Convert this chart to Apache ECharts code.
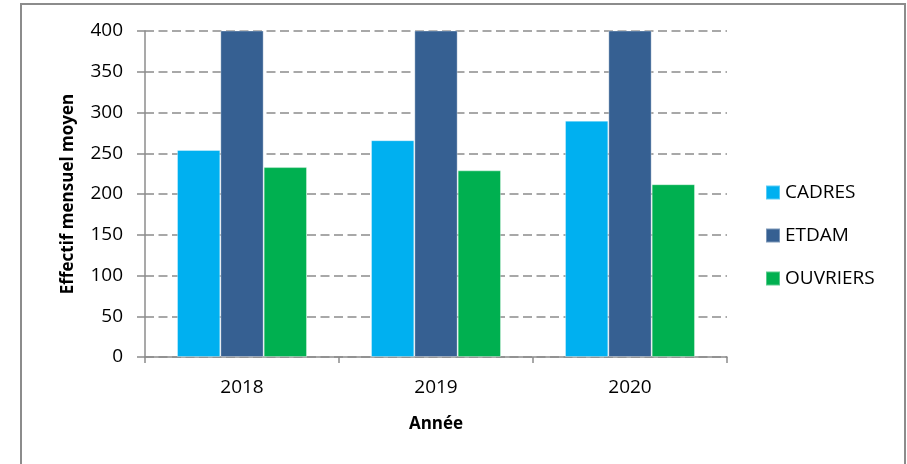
<!DOCTYPE html>
<html>
<head>
<meta charset="utf-8">
<title>Effectif mensuel moyen</title>
<script src="https://cdn.jsdelivr.net/npm/echarts@6/dist/echarts.min.js"></script>
<style>
  html, body { margin: 0; padding: 0; background: #fff; }
  #chart { width: 907px; height: 464px; }
</style>
</head>
<body>
<div id="chart"></div>
<script>
// data (ETDAM bars are cut at the 400 axis max)
const years = ['2018', '2019', '2020']
const cadres = [254, 266, 290]
const etdam = [440, 440, 440]
const ouvriers = [233, 229, 212]
const yTicks = [0, 50, 100, 150, 200, 250, 300, 350, 400]

const font = '"Open Sans", "Noto Sans", sans-serif'
const gridColor = '#8c8c8c'

const chart = echarts.init(document.getElementById('chart'))

function barSeries(name, data, color) {
  return {
    name: name,
    type: 'bar',
    data: data,
    clip: true,
    barGap: '0%',
    barCategoryGap: '33%',
    itemStyle: {
      color: color,
      borderColor: 'rgba(255,255,255,0.35)',
      borderWidth: 1
    }
  }
}

chart.setOption({
  animation: false,
  textStyle: { fontFamily: font, color: '#000' },
  grid: {
    left: 145,
    right: 180,
    top: 31,
    bottom: 107
  },
  legend: {
    orient: 'vertical',
    left: 765,
    top: 183,
    padding: 0,
    itemWidth: 14,
    itemHeight: 14,
    itemGap: 24,
    icon: 'rect',
    textStyle: { fontSize: 19, fontFamily: font, color: '#000' },
    data: ['CADRES', 'ETDAM', 'OUVRIERS']
  },
  xAxis: {
    type: 'category',
    data: years,
    boundaryGap: true,
    name: 'Année',
    nameLocation: 'middle',
    nameGap: 59,
    nameTextStyle: { fontSize: 17, fontWeight: 'bold', fontFamily: font, color: '#000' },
    axisLine: { lineStyle: { color: gridColor, width: 1.5 } },
    axisTick: { show: true, length: 6, lineStyle: { color: gridColor, width: 1.5 } },
    axisLabel: { fontSize: 19, margin: 21, color: '#000' }
  },
  yAxis: {
    type: 'value',
    min: yTicks[0],
    max: yTicks[yTicks.length - 1],
    interval: 50,
    name: 'Effectif mensuel moyen',
    nameLocation: 'middle',
    nameGap: 68,
    nameTextStyle: { fontSize: 17, fontWeight: 'bold', fontFamily: font, color: '#000' },
    axisLine: { show: true, lineStyle: { color: gridColor, width: 1.5 } },
    axisTick: { show: true, length: 8, lineStyle: { color: gridColor, width: 1.5 } },
    axisLabel: { fontSize: 19, margin: 22, color: '#000' },
    splitLine: {
      lineStyle: { color: gridColor, width: 1.5, type: [9, 4.5] }
    }
  },
  graphic: [{
    type: 'rect',
    shape: { x: 21, y: 4, width: 884, height: 470 },
    style: { fill: 'none', stroke: '#8c8c8c', lineWidth: 2 },
    silent: true
  }],
  series: [
    barSeries('CADRES', cadres, '#00b0f0'),
    barSeries('ETDAM', etdam, '#366092'),
    barSeries('OUVRIERS', ouvriers, '#00b050')
  ]
})
</script>
</body>
</html>
